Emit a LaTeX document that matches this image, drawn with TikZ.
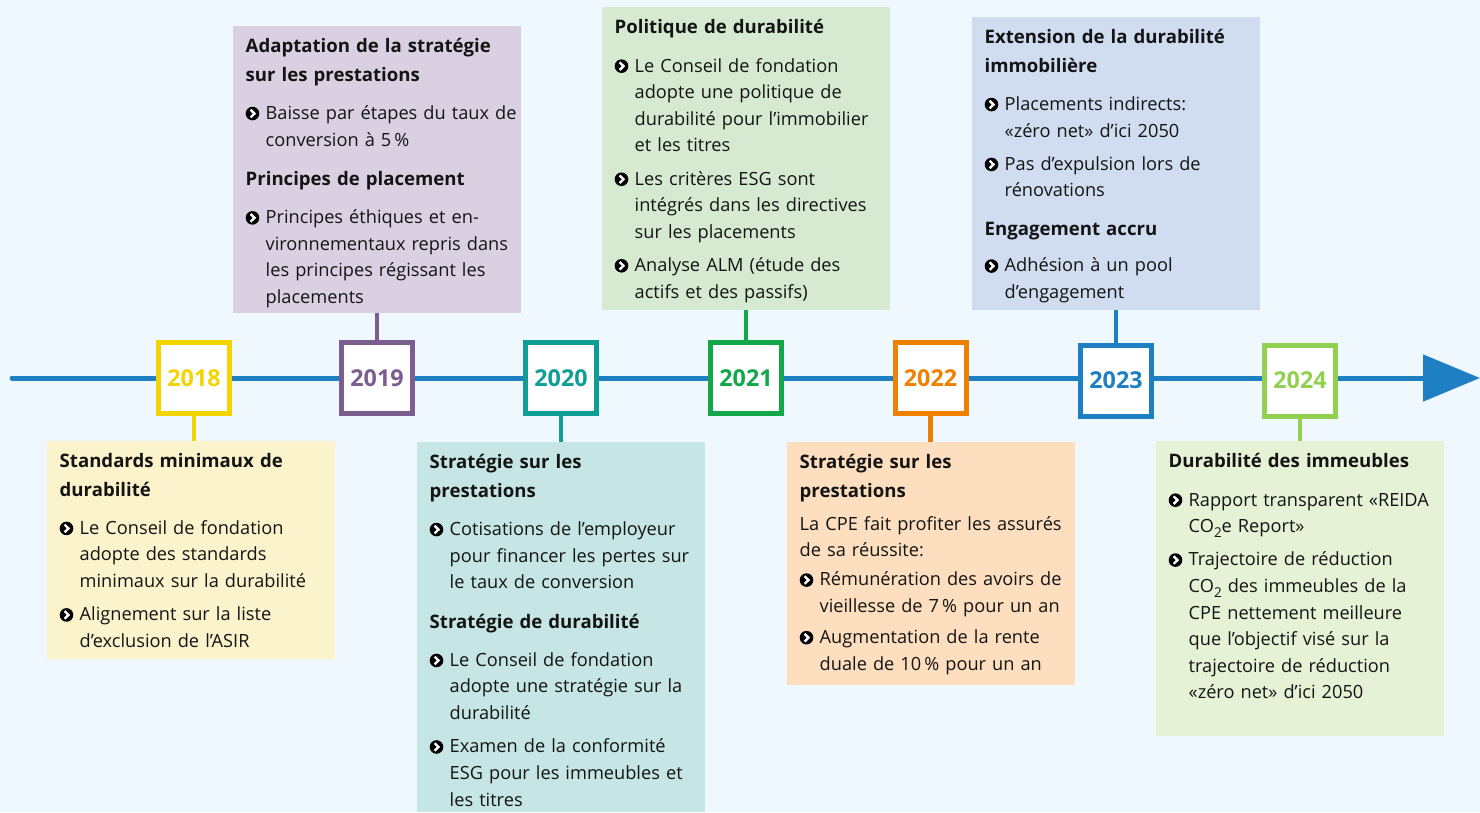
\documentclass[tikz,border=0pt]{standalone}
\usepackage{fontspec}
\setmainfont{Open Sans}
\usetikzlibrary{arrows.meta}
\definecolor{bg}{HTML}{EEF8FE}
\definecolor{tl}{HTML}{1E7FC2}
\definecolor{txtc}{HTML}{141414}
\definecolor{cA}{HTML}{F2D500}
\definecolor{cB}{HTML}{7B5E8F}
\definecolor{cC}{HTML}{0E9E96}
\definecolor{cD}{HTML}{12A84A}
\definecolor{cE}{HTML}{F08000}
\definecolor{cF}{HTML}{1E7FC2}
\definecolor{cG}{HTML}{92D050}
\definecolor{fA}{HTML}{FBF3CC}
\definecolor{fB}{HTML}{D9D1E1}
\definecolor{fC}{HTML}{C5E6E4}
\definecolor{fD}{HTML}{D6EAD1}
\definecolor{fE}{HTML}{FDDFBF}
\definecolor{fF}{HTML}{D0DCF0}
\definecolor{fG}{HTML}{E6F2D6}
\newcommand\bul{\tikz[x=1pt,y=1pt,baseline=0pt]{\fill[black] (6.6,5.9) circle (6.8pt); \draw[white,line width=2.4pt,line cap=butt,line join=miter] (4.7,9.7)--(8.6,5.9)--(4.7,2.1);}}
\newcommand\nl{\hfil\break}
\newcommand\fst{\rule{0pt}{14pt}}
\newcommand\subtwo{\raisebox{-4.5pt}{\fontsize{13.5}{14}\selectfont 2}}
\newcommand\hd[1]{{\noindent\bfseries\fontsize{18.6}{28.4}\selectfont #1\par}}
\newcommand\bl[1]{{\hangindent=20pt\hangafter=1\noindent\makebox[20pt][l]{\bul}#1\par}}
\newcommand\hbgap{\vspace{11.7pt}}
\newcommand\bbgap{\vspace{6.7pt}}
\newcommand\bhgap{\vspace{11pt}}
\begin{document}
\begin{tikzpicture}[x=1pt,y=-1pt,
  card/.style={anchor=north west,inner sep=0pt,minimum width=288pt,draw=none},
  txt/.style={anchor=north west,inner sep=0pt,text width=290pt,align=left,
    font=\fontsize{18.2}{26.6}\selectfont,text=txtc},
  yearbox/.style={draw=#1,line width=5pt,fill=white,minimum size=71pt,inner sep=0pt,
    text=#1,font=\bfseries\fontsize{23.3}{26}\selectfont},
  stub/.style={draw=#1,line width=4.5pt}]
\fill[bg] (0,0) rectangle (1480,812);
\useasboundingbox (0,0) rectangle (1480,812);

% cards
\node[card,fill=fA,minimum height=218pt] (c2018) at (47,441) {};
\node[card,fill=fB,minimum height=287pt] (c2019) at (233,26) {};
\node[card,fill=fC,minimum height=370pt] (c2020) at (417,442) {};
\node[card,fill=fD,minimum height=303pt] (c2021) at (602,7) {};
\node[card,fill=fE,minimum height=243pt] (c2022) at (787,442) {};
\node[card,fill=fF,minimum height=293pt] (c2023) at (972,17) {};
\node[card,fill=fG,minimum height=295pt] (c2024) at (1156,441) {};

% timeline
\coordinate (tstart) at (12,378);
\coordinate (tend) at (1480,378);
\draw[tl,line width=5pt,line cap=round,-{Triangle[length=57pt,width=46pt]}] (tstart) -- (tend);

% year boxes
\node[yearbox=cA] (y2018) at (194,378) {2018};
\node[yearbox=cB] (y2019) at (377,378) {2019};
\node[yearbox=cC] (y2020) at (561,378) {2020};
\node[yearbox=cD] (y2021) at (746,378) {2021};
\node[yearbox=cE] (y2022) at (930.5,378) {2022};
\node[yearbox=cF] (y2023) at (1116,380.5) {2023};
\node[yearbox=cG] (y2024) at (1300,380.5) {2024};

% stubs
\draw[stub=cA] (y2018.south) -- (y2018.south |- c2018.north);
\draw[stub=cB] (y2019.north) -- (y2019.north |- c2019.south);
\draw[stub=cC] (y2020.south) -- (y2020.south |- c2020.north);
\draw[stub=cD] (y2021.north) -- (y2021.north |- c2021.south);
\draw[stub=cE] (y2022.south) -- (y2022.south |- c2022.north);
\draw[stub=cF] (y2023.north) -- (y2023.north |- c2023.south);
\draw[stub=cG] (y2024.south) -- (y2024.south |- c2024.north);

% texts
\node[txt,xshift=12.5pt,yshift=-12.3pt] (t2018) at (c2018.north west) {%
\hd{\fst Standards minimaux de\nl durabilité}\hbgap
\bl{Le Conseil de fondation\nl adopte des standards\nl minimaux sur la durabilité}\bbgap
\bl{Alignement sur la liste\nl d’exclusion de l’ASIR}};

\node[txt,xshift=12.5pt,yshift=-12.3pt] (t2019) at (c2019.north west) {%
\hd{\fst Adaptation de la stratégie\nl sur les prestations}\hbgap
\bl{Baisse par étapes du taux de\nl conversion à 5\,\%}\bhgap
\hd{Principes de placement}\hbgap
\bl{Principes éthiques et en-\nl vironnementaux repris dans\nl les principes régissant les\nl placements}};

\node[txt,xshift=12.5pt,yshift=-12.3pt] (t2020) at (c2020.north west) {%
\hd{\fst Stratégie sur les\nl prestations}\hbgap
\bl{Cotisations de l’employeur\nl pour financer les pertes sur\nl le taux de conversion}\bhgap
\hd{Stratégie de durabilité}\hbgap
\bl{Le Conseil de fondation\nl adopte une stratégie sur la\nl durabilité}\bbgap
\bl{Examen de la conformité\nl ESG pour les immeubles et\nl les titres}};

\node[txt,xshift=12.5pt,yshift=-12.3pt] (t2021) at (c2021.north west) {%
\hd{\fst Politique de durabilité}\hbgap
\bl{Le Conseil de fondation\nl adopte une politique de\nl durabilité pour l’immobilier\nl et les titres}\bbgap
\bl{Les critères ESG sont\nl intégrés dans les directives\nl sur les placements}\bbgap
\bl{Analyse ALM (étude des\nl actifs et des passifs)}};

\node[txt,xshift=12.5pt,yshift=-12.3pt] (t2022) at (c2022.north west) {%
\hd{\fst Stratégie sur les\nl prestations}\vspace{6.6pt}
{\noindent La CPE fait profiter les assurés\nl de sa réussite:\par}\vspace{2.4pt}
\bl{Rémunération des avoirs de\nl vieillesse de 7\,\% pour un an}\vspace{4.4pt}
\bl{Augmentation de la rente\nl duale de 10\,\% pour un an}};

\node[txt,xshift=12.5pt,yshift=-12.3pt] (t2023) at (c2023.north west) {%
\hd{\fst Extension de la durabilité\nl immobilière}\hbgap
\bl{Placements indirects:\nl «zéro net» d’ici 2050}\bbgap
\bl{Pas d’expulsion lors de\nl rénovations}\vspace{10pt}
\hd{Engagement accru}\vspace{10pt}
\bl{Adhésion à un pool\nl d’engagement}};

\node[txt,xshift=12.5pt,yshift=-12.3pt] (t2024) at (c2024.north west) {%
\hd{\fst Durabilité des immeubles}\hbgap
\bl{Rapport transparent «REIDA\nl CO\subtwo e Report»}\bbgap
\bl{Trajectoire de réduction\nl CO\subtwo{} des immeubles de la\nl CPE nettement meilleure\nl que l’objectif visé sur la\nl trajectoire de réduction\nl «zéro net» d’ici 2050}};
\end{tikzpicture}
\end{document}
